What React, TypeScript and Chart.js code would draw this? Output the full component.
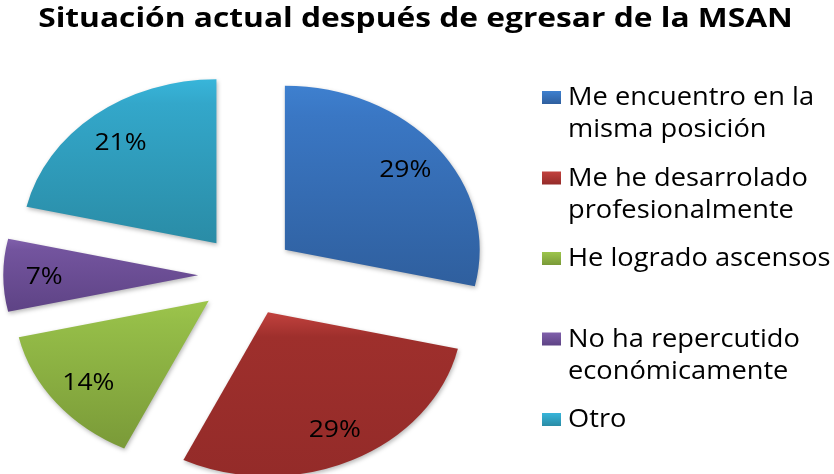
import React, { useEffect, useRef } from "react";
import { Chart, registerables } from "chart.js";

Chart.register(...registerables);

// ---------- data ----------
const TITLE = "Situación actual después de egresar de la MSAN";
const CATEGORIES = [
  ["Me encuentro en la", "misma posición"],
  ["Me he desarrolado", "profesionalmente"],
  ["He logrado ascensos"],
  ["No ha repercutido", "económicamente"],
  ["Otro"],
];
const VALUES = [4, 4, 2, 1, 3];

// ---------- styles ----------
const TOP_COLORS = ["#3e80cf", "#c2423e", "#9dc54c", "#8060ab", "#38b5da"];
const MID_COLORS = ["#3a77c4", "#9e2f2c", "#95bd48", "#73549e", "#33a7ca"];
const BOTTOM_COLORS = ["#2f5f9e", "#942b29", "#7a9a38", "#5e4385", "#2a8ca6"];

const W = 834;
const H = 474;
const CX = 246.8;
const CY = 275.3;
const R = 164;
const EXPLODE = 41;
const SX = 1.188;
const LABEL_F = 0.79;
const FONT = '"Open Sans", "DejaVu Sans", sans-serif';

const TITLE_SIZE = 26;
const TITLE_SX = 1.22;
const LEGEND_SIZE = 25;
const LEGEND_SX = 1.09;
const LABEL_SIZE = 23;
const LABEL_SX = 1.15;

function sliceGradient(c: any) {
  const chart = c.chart;
  const i = c.dataIndex ?? 0;
  const area = chart.chartArea;
  if (!area) return MID_COLORS[i];
  const cy = (area.top + area.bottom) / 2;
  const total = VALUES.reduce((a, b) => a + b, 0);
  let a0 = -Math.PI / 2;
  for (let k = 0; k < i; k++) a0 += (VALUES[k] / total) * 2 * Math.PI;
  const a1 = a0 + (VALUES[i] / total) * 2 * Math.PI;
  const ys = [cy, cy + R * Math.sin(a0), cy + R * Math.sin(a1)];
  for (const e of [-Math.PI / 2, Math.PI / 2, (3 * Math.PI) / 2]) {
    if (e >= a0 && e <= a1) ys.push(cy + R * Math.sin(e));
  }
  const top = Math.min(...ys);
  const bot = Math.max(...ys);
  const g = chart.ctx.createLinearGradient(0, top, 0, bot);
  g.addColorStop(0, TOP_COLORS[i]);
  g.addColorStop(0.15, MID_COLORS[i]);
  g.addColorStop(1, BOTTOM_COLORS[i]);
  return g;
}

function scaledText(ctx: any, txt: string, x: number, y: number, sx: number) {
  ctx.save();
  ctx.translate(x, y);
  ctx.scale(sx, 1);
  ctx.fillText(txt, 0, 0);
  ctx.restore();
}

const explodedPie = {
  id: "explodedPie",
  beforeDatasetsDraw(chart: any) {
    const ctx = chart.ctx;
    const meta = chart.getDatasetMeta(0);
    meta.data.forEach((arc: any) => {
      const { x, y, startAngle, endAngle } = arc;
      const mid = (startAngle + endAngle) / 2;
      ctx.save();
      ctx.translate(x, y);
      ctx.scale(SX, 1);
      ctx.translate(Math.cos(mid) * EXPLODE, Math.sin(mid) * EXPLODE);
      ctx.translate(-x, -y);
      ctx.shadowColor = "rgba(0,0,0,0.28)";
      ctx.shadowBlur = 4;
      ctx.shadowOffsetX = 1;
      ctx.shadowOffsetY = 2;
      arc.draw(ctx);
      ctx.restore();
    });
    return false;
  },
  afterDraw(chart: any) {
    const ctx = chart.ctx;
    const meta = chart.getDatasetMeta(0);
    const total = VALUES.reduce((a, b) => a + b, 0);

    // percentage labels
    ctx.save();
    ctx.fillStyle = "#000";
    ctx.font = `${LABEL_SIZE}px ${FONT}`;
    ctx.textAlign = "center";
    ctx.textBaseline = "alphabetic";
    meta.data.forEach((arc: any, i: number) => {
      const { x, y, startAngle, endAngle } = arc;
      const mid = (startAngle + endAngle) / 2;
      const d = EXPLODE + LABEL_F * R;
      const lx = x + SX * Math.cos(mid) * d;
      const ly = y + Math.sin(mid) * d;
      const txt = Math.round((VALUES[i] / total) * 100) + "%";
      scaledText(ctx, txt, lx, ly + 0.357 * LABEL_SIZE, LABEL_SX);
    });
    ctx.restore();

    // legend
    ctx.save();
    ctx.font = `${LEGEND_SIZE}px ${FONT}`;
    ctx.textAlign = "left";
    ctx.textBaseline = "alphabetic";
    const labels = chart.data.labels as string[][];
    labels.forEach((lines, i) => {
      const base = 105 + i * 80.5;
      const g = ctx.createLinearGradient(0, base - 14, 0, base - 1);
      g.addColorStop(0, TOP_COLORS[i]);
      g.addColorStop(1, BOTTOM_COLORS[i]);
      ctx.fillStyle = g;
      ctx.fillRect(542, base - 14, 19, 13);
      ctx.fillStyle = "#000";
      lines.forEach((ln, j) => scaledText(ctx, ln, 568, base + j * 32, LEGEND_SX));
    });
    ctx.restore();

    // title
    ctx.save();
    ctx.font = `bold ${TITLE_SIZE}px ${FONT}`;
    ctx.fillStyle = "#000";
    ctx.textAlign = "center";
    ctx.textBaseline = "alphabetic";
    scaledText(ctx, TITLE, 415.5, 27, TITLE_SX);
    ctx.restore();
  },
};

export default function App() {
  const ref = useRef<HTMLCanvasElement>(null);
  useEffect(() => {
    const canvas = ref.current!;
    const chart = new Chart(canvas, {
      type: "pie",
      data: {
        labels: CATEGORIES as any,
        datasets: [
          {
            data: VALUES,
            backgroundColor: sliceGradient as any,
            borderWidth: 0,
            offset: 0,
            hoverOffset: 0,
            radius: R,
          } as any,
        ],
      },
      options: {
        animation: false,
        responsive: false,
        devicePixelRatio: 1,
        events: [],
        layout: {
          padding: { left: 0, right: W - 2 * CX, top: 2 * CY - H, bottom: 0 },
        },
        plugins: {
          legend: { display: false },
          title: { display: false },
          tooltip: { enabled: false },
        },
      } as any,
      plugins: [explodedPie],
    });
    let alive = true;
    if ((document as any).fonts && (document as any).fonts.load) {
      Promise.all([
        (document as any).fonts.load(`${LEGEND_SIZE}px "Open Sans"`),
        (document as any).fonts.load(`bold ${TITLE_SIZE}px "Open Sans"`),
      ])
        .then(() => {
          if (alive) chart.draw();
        })
        .catch(() => {});
    }
    return () => {
      alive = false;
      chart.destroy();
    };
  }, []);
  return (
    <div
      style={{
        position: "fixed",
        left: 0,
        top: 0,
        width: W,
        height: H,
        background: "#fff",
      }}
    >
      <canvas ref={ref} width={W} height={H} style={{ display: "block", width: W, height: H }} />
    </div>
  );
}
